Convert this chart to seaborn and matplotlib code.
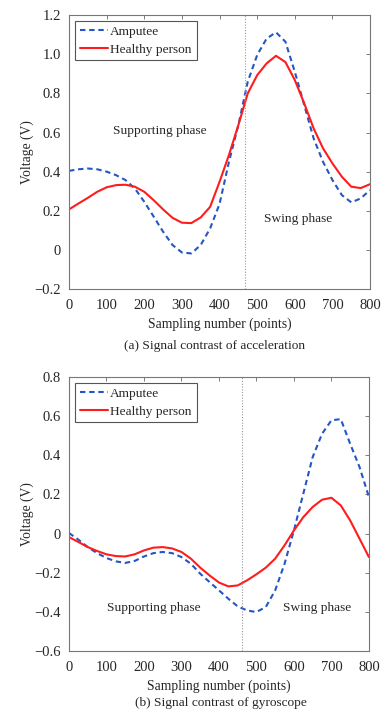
import matplotlib
matplotlib.use("Agg")
import matplotlib.pyplot as plt
import matplotlib.ticker as mticker
import seaborn as sns
import numpy as np
import pandas as pd

# sampling positions (points)
x_pts = [0, 25, 50, 75, 100, 125, 150, 175, 200, 225, 250, 275, 300, 325, 350, 375,
         400, 425, 450, 475, 500, 525, 550, 575, 600, 625, 650, 675, 700, 725, 750, 775, 800]

# (a) acceleration
acc_amputee = [0.404, 0.412, 0.416, 0.412, 0.400, 0.382, 0.357, 0.314, 0.246, 0.170, 0.093, 0.025, -0.013,
               -0.018, 0.025, 0.110, 0.235, 0.450, 0.638, 0.860, 0.996, 1.080, 1.112, 1.064, 0.910,
               0.740, 0.570, 0.450, 0.357, 0.280, 0.243, 0.263, 0.306]
acc_healthy = [0.207, 0.237, 0.266, 0.297, 0.320, 0.331, 0.333, 0.323, 0.297, 0.254, 0.207, 0.164, 0.139,
               0.137, 0.166, 0.220, 0.348, 0.485, 0.638, 0.800, 0.893, 0.953, 0.992, 0.960, 0.868,
               0.749, 0.621, 0.519, 0.442, 0.374, 0.323, 0.316, 0.336]

# (b) gyroscope
gyr_amputee = [0.003, -0.031, -0.069, -0.100, -0.125, -0.142, -0.150, -0.140, -0.117, -0.100, -0.094,
               -0.100, -0.120, -0.154, -0.205, -0.248, -0.290, -0.333, -0.372, -0.393, -0.401, -0.375,
               -0.290, -0.154, 0.016, 0.204, 0.391, 0.510, 0.579, 0.585, 0.459, 0.340, 0.187]
gyr_healthy = [-0.018, -0.043, -0.069, -0.089, -0.106, -0.115, -0.117, -0.106, -0.086, -0.072, -0.069,
               -0.076, -0.094, -0.128, -0.174, -0.214, -0.250, -0.270, -0.265, -0.239, -0.208, -0.174,
               -0.128, -0.060, 0.016, 0.084, 0.136, 0.173, 0.183, 0.144, 0.067, -0.026, -0.120]

series_names = ["Amputee", "Healthy person"]
captions = ["(a) Signal contrast of acceleration", "(b) Signal contrast of gyroscope"]

sns.set_style("white")
plt.rcParams["font.family"] = ["Liberation Serif", "DejaVu Serif"]
plt.rcParams["axes.unicode_minus"] = True

palette = {"Amputee": "#2456c4", "Healthy person": "#ff1c1c"}
dashes = {"Amputee": (2.6, 1.8), "Healthy person": ""}


def fmt(v, pos):
    return "0" if abs(v) < 1e-9 else f"{v:.1f}".replace("-", "\u2212")


fig = plt.figure(figsize=(3.91, 7.19), dpi=100)
ax1 = fig.add_axes([0.1765, 0.598, 0.770, 0.381])
ax2 = fig.add_axes([0.1765, 0.0946, 0.767, 0.381])

panels = [
    (ax1, acc_amputee, acc_healthy, (-0.2, 1.2), 468,
     [(242, 0.607, "Supporting phase"), (609, 0.157, "Swing phase")]),
    (ax2, gyr_amputee, gyr_healthy, (-0.6, 0.8), 461,
     [(227, -0.382, "Supporting phase"), (663, -0.382, "Swing phase")]),
]

for ax, amp, hea, ylim, vx, notes in panels:
    df = pd.DataFrame({
        "x": x_pts * 2,
        "y": amp + hea,
        "who": [series_names[0]] * len(x_pts) + [series_names[1]] * len(x_pts),
    })
    sns.lineplot(data=df, x="x", y="y", hue="who", style="who", palette=palette,
                 dashes=dashes, linewidth=1.5, ax=ax, legend=True)
    ax.axvline(vx, color="#999999", linestyle=(0, (1, 1.5)), linewidth=0.8)
    for tx, ty, t in notes:
        ax.text(tx, ty, t, ha="center", va="center", fontsize=9.6)
    ax.set_xlim(0, 800)
    ax.set_ylim(*ylim)
    ax.xaxis.set_major_locator(mticker.MultipleLocator(100))
    ax.yaxis.set_major_locator(mticker.MultipleLocator(0.2))
    ax.yaxis.set_major_formatter(mticker.FuncFormatter(fmt))
    ax.tick_params(direction="in", top=True, right=True, length=3, width=0.6,
                   color="#666666", labelsize=10.5)
    ax.tick_params(axis="x", pad=7)
    ax.tick_params(axis="y", pad=6)
    for s in ax.spines.values():
        s.set_color("#777777")
        s.set_linewidth(0.8)
    ax.set_xlabel("Sampling number (points)", fontsize=9.8, labelpad=4)
    ax.set_ylabel("Voltage (V)", fontsize=9.8, labelpad=0)
    leg = ax.legend(loc="upper left", fontsize=9.6, frameon=True, fancybox=False,
                    edgecolor="#555555", framealpha=1, handlelength=2.1,
                    handletextpad=0.2, borderpad=0.35, labelspacing=0.4,
                    borderaxespad=0.45)
    leg.get_frame().set_linewidth(0.8)

fig.text(0.55, 1 - 346 / 719, captions[0], ha="center", va="center", fontsize=9.6)
fig.text(0.565, 1 - 703 / 719, captions[1], ha="center", va="center", fontsize=9.6)

fig.savefig("out.png", dpi=100)
